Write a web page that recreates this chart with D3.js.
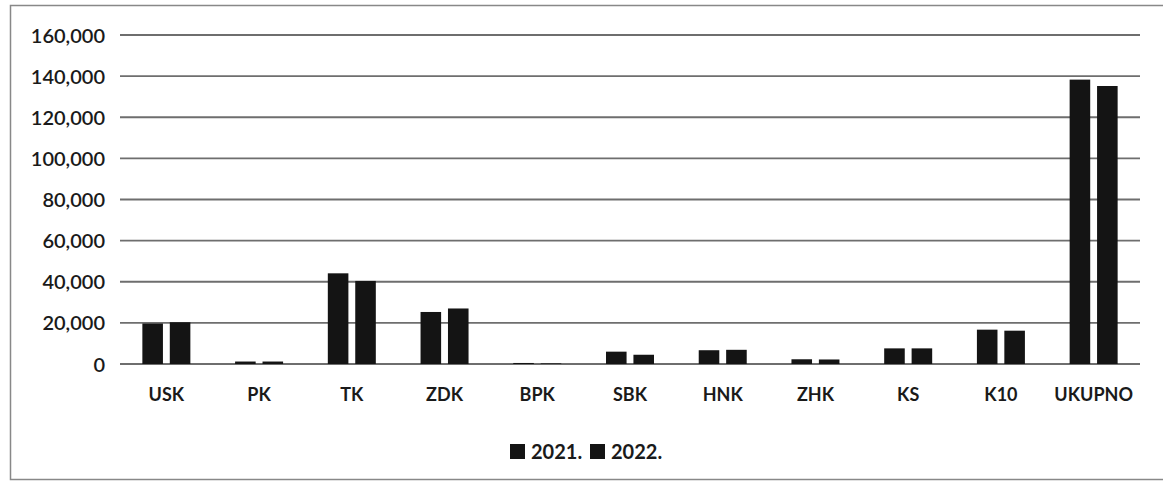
<!DOCTYPE html>
<html>
<head>
<meta charset="utf-8">
<script src="https://cdn.jsdelivr.net/npm/d3@7"></script>
<style>
  html, body { margin: 0; padding: 0; background: #fff; }
  svg { display: block; }
  text { font-family: Lato, "Open Sans", sans-serif; fill: #1a1a1a; }
</style>
</head>
<body>
<svg id="chart" width="1163" height="490"></svg>
<script>
const categories = ["USK", "PK", "TK", "ZDK", "BPK", "SBK", "HNK", "ZHK", "KS", "K10", "UKUPNO"];
const seriesNames = ["2021.", "2022."];
const values2021 = [19700, 1200, 44100, 25300, 500, 6000, 6700, 2300, 7600, 16700, 138300];
const values2022 = [20300, 1200, 40400, 27000, 300, 4500, 6900, 2200, 7600, 16200, 135200];
const yTicks = [0, 20000, 40000, 60000, 80000, 100000, 120000, 140000, 160000];
const seriesColors = ["#141414", "#141414"];

const svg = d3.select("#chart");
const W = 1163, H = 490;
const m = { left: 120, right: 23, top: 35, bottom: 126 };

// outer frame (scanned document border)
svg.append("rect").attr("x", 10.5).attr("y", 5.5).attr("width", W + 10).attr("height", 474)
  .attr("fill", "none").attr("stroke", "#888").attr("stroke-width", 1.5);

const x0 = d3.scaleBand().domain(categories).range([m.left, W - m.right]).padding(0);
const x1 = d3.scaleBand().domain(seriesNames).range([-24, 24]).paddingInner(0.25).paddingOuter(0);
const y = d3.scaleLinear().domain([0, 160000]).range([H - m.bottom, m.top]);

// gridlines + y tick labels
const yAxis = d3.axisLeft(y).tickValues(yTicks).tickFormat(d3.format(",")).tickSize(0).tickPadding(0);
const gy = svg.append("g").attr("transform", `translate(${m.left},0)`).call(yAxis);
gy.select(".domain").remove();
gy.selectAll("text").attr("x", -15).attr("dy", "0.35em")
  .style("font-size", "20px").style("font-weight", "600").style("font-family", "Lato, sans-serif");
svg.append("g").selectAll("line").data(yTicks).join("line")
  .attr("x1", m.left).attr("x2", W - m.right)
  .attr("y1", d => y(d)).attr("y2", d => y(d))
  .attr("stroke", "#6e6e6e").attr("stroke-width", 1.8);

// bars
const data = categories.map((c, i) => ({ c, vals: [values2021[i], values2022[i]] }));
const groups = svg.append("g").selectAll("g").data(data).join("g")
  .attr("transform", d => `translate(${x0(d.c) + x0.bandwidth() / 2},0)`);
groups.selectAll("rect").data(d => d.vals.map((v, j) => ({ s: seriesNames[j], v, j })))
  .join("rect")
  .attr("x", d => x1(d.s))
  .attr("width", x1.bandwidth())
  .attr("y", d => y(d.v))
  .attr("height", d => y(0) - y(d.v))
  .attr("fill", d => seriesColors[d.j]);

// x axis labels
const xAxis = d3.axisBottom(x0).tickSize(0).tickPadding(0);
const gx = svg.append("g").attr("transform", `translate(0,${y(0)})`).call(xAxis);
gx.select(".domain").remove();
gx.selectAll("text").attr("y", 31).attr("dy", "0.35em")
  .style("font-size", "18px").style("font-weight", "700").style("font-family", "Lato, sans-serif");

// legend
const legend = svg.append("g").attr("transform", "translate(510,452)");
const legendX = [0, 80];
seriesNames.forEach((s, i) => {
  const g = legend.append("g").attr("transform", `translate(${legendX[i]},0)`);
  g.append("rect").attr("x", 0).attr("y", -8).attr("width", 15).attr("height", 15).attr("fill", seriesColors[i]);
  g.append("text").attr("x", 21).attr("y", 0).attr("dy", "0.35em")
    .style("font-size", "20px").style("font-weight", "700").text(s);
});
</script>
</body>
</html>
